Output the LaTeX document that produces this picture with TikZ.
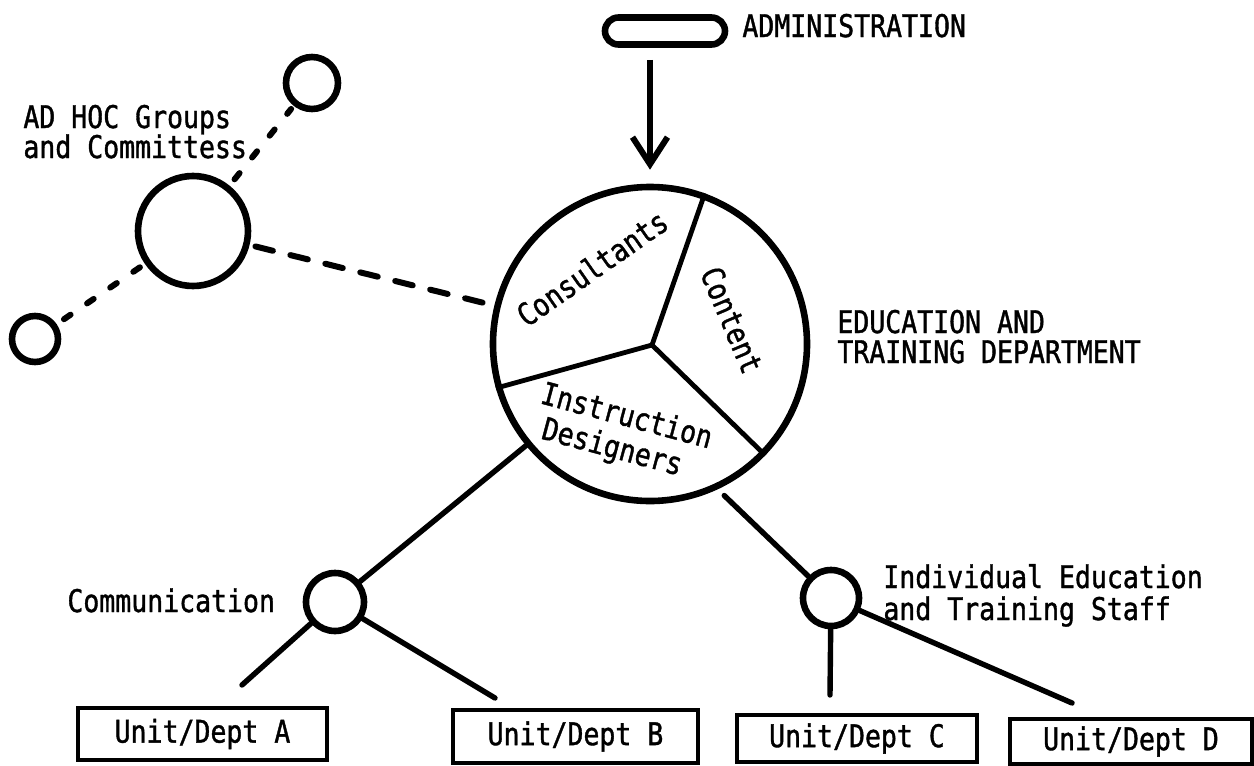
\documentclass[tikz,border=0pt]{standalone}
\usepackage{fontspec}
\newfontfamily\tw[FakeStretch=0.85,FakeBold=1.2]{DejaVu Sans Mono}
\usetikzlibrary{arrows.meta,calc}
\begin{document}
\begin{tikzpicture}[x=0.5pt,y=-0.5pt,
  every node/.style={font=\tw\fontsize{15.6pt}{16pt}\selectfont},
  ring/.style={circle,draw,line width=3.3pt,inner sep=0pt},
  unitbox/.style={draw,line width=2.3pt,inner sep=0pt},
  link/.style={line width=2.7pt,line cap=round},
  spoke/.style={line width=2.4pt},
  dashlong/.style={line width=3pt,line cap=round,dash pattern=on 9pt off 9pt},
  dashshort/.style={line width=3pt,line cap=round,dash pattern=on 4pt off 10pt},
  lbl/.style={anchor=base west,inner sep=0pt},
  inlbl/.style={inner sep=0pt},
]
\useasboundingbox (0,0) rectangle (1254,766);

% main circle
\node[ring,minimum size=157pt] (edu) at (650,344) {};
\coordinate (hub) at (652,345);
\draw[spoke] (hub) -- (edu.70.5);
\draw[spoke] (hub) -- (edu.196);
\draw[spoke] (hub) -- (edu.-44.7);
\node[inlbl,rotate=35] (tcons) at (592,268) {Consultants};
\node[inlbl,rotate=-67] (tcont) at (732,320) {Content};
\node[inlbl,rotate=-15,align=left,font=\tw\fontsize{15.6pt}{17pt}\selectfont] (tinst) at (622,434)
  {Instruction\\\hspace{5pt}Designers};
\node[lbl] (ledu1) at (837,333) {EDUCATION AND};
\node[lbl] (ledu2) at (837,363) {TRAINING DEPARTMENT};

% administration
\node[draw,line width=3.3pt,minimum width=60pt,minimum height=13.5pt,rounded corners=6.75pt,inner sep=0pt] (admin) at (665,31) {};
\node[lbl] (ladmin) at (742,37) {ADMINISTRATION};
\draw[line width=3pt,-{Straight Barb[length=13.5pt,width=17.5pt]},shorten <=6pt,shorten >=7pt]
  (admin.south -| edu.north) -- (edu.north);

% ad hoc groups
\node[ring,minimum size=55pt] (adhoc) at (193,231) {};
\node[ring,minimum size=26pt] (smallA) at (312,83) {};
\node[ring,minimum size=23pt] (smallB) at (35,339) {};
\draw[dashshort,shorten <=4pt,shorten >=2pt] (adhoc) -- (smallA);
\draw[dashshort,shorten <=3pt,shorten >=3pt] (adhoc) -- (smallB);
\draw[dashlong,shorten <=3pt,shorten >=4pt] (adhoc) -- (edu);
\node[lbl] (lad1) at (23,128) {AD HOC Groups};
\node[lbl] (lad2) at (23,158) {and Committess};

% communication
\node[ring,minimum size=29pt] (comm) at (335,602) {};
\node[lbl] (lcomm) at (67,612) {Communication};
\draw[link] (comm) -- (edu);

% individual staff
\node[ring,minimum size=28pt] (iets) at (831,598) {};
\node[lbl] (liets1) at (883,588) {Individual Education};
\node[lbl] (liets2) at (883,620) {and Training Staff};
\draw[link,shorten >=4.5pt] (iets) -- (edu.-65);

% unit boxes
\node[unitbox,minimum width=124.5pt,minimum height=26pt] (boxA) at (202.5,734) {Unit/Dept A};
\node[unitbox,minimum width=122.5pt,minimum height=26.5pt] (boxB) at (575.5,736.5) {Unit/Dept B};
\node[unitbox,minimum width=120pt,minimum height=23.5pt] (boxC) at (857,738.5) {Unit/Dept C};
\node[unitbox,minimum width=121pt,minimum height=22.5pt] (boxD) at (1131,741.5) {Unit/Dept D};

\coordinate (endA) at (242,685);
\coordinate (endB) at (495,698);
\coordinate (endC) at (830,695);
\coordinate (endD) at (1072,703);
\draw[link] (comm) -- (endA);
\draw[link] (comm) -- (endB);
\draw[link] (iets) -- (endC);
\draw[link] (iets) -- (endD);
\end{tikzpicture}
\end{document}
